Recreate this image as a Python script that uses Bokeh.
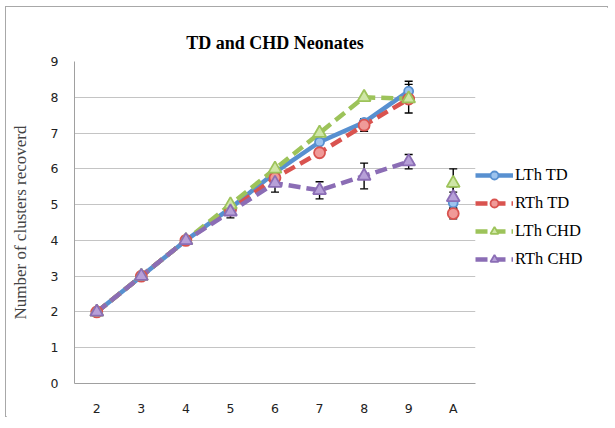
from bokeh.plotting import figure
from bokeh.models import ColumnDataSource, Whisker, Legend, LegendItem, FactorRange, FixedTicker
from bokeh.embed import file_html
from bokeh.resources import INLINE

cats = ["2", "3", "4", "5", "6", "7", "8", "9", "A"]
line_cats = cats[:8]

lth_td = [2, 3, 4, 4.9, 5.9, 6.75, 7.3, 8.17, 5.05]
rth_td = [2, 3, 4, 4.85, 5.75, 6.45, 7.22, 7.95, 4.75]
lth_chd = [2, 3, 4, 5.0, 6.0, 7.0, 8.0, 7.96, 5.6]
rth_chd = [2, 3, 4, 4.8, 5.6, 5.4, 5.8, 6.2, 5.2]

lth_td_err = [0, 0, 0, 0, 0, 0.05, 0.1, 0.28, 0.3]
rth_td_err = [0, 0, 0, 0, 0, 0.05, 0.17, 0.1, 0.15]
lth_chd_err = [0, 0, 0, 0, 0, 0, 0, 0.4, 0.4]
rth_chd_err = [0, 0, 0, 0.17, 0.25, 0.24, 0.36, 0.2, 0.3]

names = ["LTh TD", "RTh TD", "LTh CHD", "RTh CHD"]
colors = ["#5890D0", "#D9534F", "#9DC35A", "#8B6DB5"]
fills = ["#9CC3EE", "#F09A98", "#CFE6A6", "#B7A0D8"]
dashes = ["solid", "12 6", "12 6", "12 6"]
markers = ["circle", "circle", "triangle", "triangle"]
msizes = [9, 11, 13, 13]
series = [lth_td, rth_td, lth_chd, rth_chd]
errors = [lth_td_err, rth_td_err, lth_chd_err, rth_chd_err]

p = figure(x_range=FactorRange(*cats), y_range=(0, 9),
           frame_width=401, frame_height=322,
           min_border_left=68, min_border_right=132, min_border_top=54, min_border_bottom=33,
           output_backend="svg", toolbar_location=None,
           title="TD and CHD Neonates")
p.styles = {"border": "1px solid #a8a8a8", "margin-left": "5px", "margin-top": "6px",
            "width": "601px", "height": "409px", "box-sizing": "content-box"}

p.title.align = "center"
p.title.text_font = "Liberation Serif"
p.title.text_font_size = "18px"
p.title.text_font_style = "bold"
p.title.text_color = "#000000"
p.title.standoff = 18

p.yaxis.ticker = FixedTicker(ticks=list(range(10)))
p.yaxis.axis_label = "Number of clusters recoverd"
p.yaxis.axis_label_text_font = "Liberation Serif"
p.yaxis.axis_label_text_font_size = "17px"
p.yaxis.axis_label_text_font_style = "normal"
p.yaxis.axis_label_standoff = 18
for ax in (p.xaxis, p.yaxis):
    ax.major_label_text_font = "DejaVu Sans"
    ax.major_label_text_font_size = "12.5px"
    ax.major_label_text_color = "#222222"
    ax.axis_line_color = "#a0a0a0"
    ax.major_tick_line_color = None
    ax.minor_tick_line_color = None
p.yaxis.major_label_standoff = 10
p.xaxis.major_label_standoff = 11

p.xgrid.grid_line_color = None
p.ygrid.grid_line_color = "#c4c4c4"
p.ygrid.grid_line_width = 1.2
p.outline_line_color = None
p.background_fill_color = "white"

items = []
for name, col, fc, dash, mk, ms, vals, errs in zip(names, colors, fills, dashes, markers, msizes, series, errors):
    ls = ColumnDataSource(dict(x=line_cats, y=vals[:8]))
    lr = p.line("x", "y", source=ls, line_color=col, line_width=4.5, line_dash=dash)
    items.append((name, lr, col, fc, mk, ms, vals, errs))

for name, lr, col, fc, mk, ms, vals, errs in items:
    xs = [c for c, e in zip(cats, errs) if e > 0]
    lo = [v - e for v, e in zip(vals, errs) if e > 0]
    hi = [v + e for v, e in zip(vals, errs) if e > 0]
    es = ColumnDataSource(dict(base=xs, lower=lo, upper=hi))
    w = Whisker(base="base", lower="lower", upper="upper", source=es, dimension="height",
                line_color="black", line_width=1.4)
    w.upper_head.size = 8
    w.lower_head.size = 8
    w.upper_head.line_color = "black"
    w.lower_head.line_color = "black"
    w.upper_head.line_width = 1.4
    w.lower_head.line_width = 1.4
    p.add_layout(w)

legend_items = []
for name, lr, col, fc, mk, ms, vals, errs in items:
    ms_src = ColumnDataSource(dict(x=cats, y=vals))
    sr = p.scatter("x", "y", source=ms_src, marker=mk, size=ms, fill_color=fc,
                   line_color=col, line_width=1.8)
    legend_items.append(LegendItem(label=name, renderers=[lr, sr]))

legend = Legend(items=legend_items, location=(0, 114))
legend.label_text_font = "Liberation Serif"
legend.label_text_font_size = "16.5px"
legend.label_text_color = "#000000"
legend.glyph_width = 38
legend.glyph_height = 20
legend.spacing = 8
legend.label_standoff = 2
legend.padding = 0
legend.margin = 13
legend.border_line_color = None
legend.background_fill_alpha = 0
p.add_layout(legend, "right")

open("out.html", "w").write(file_html(p, INLINE))
